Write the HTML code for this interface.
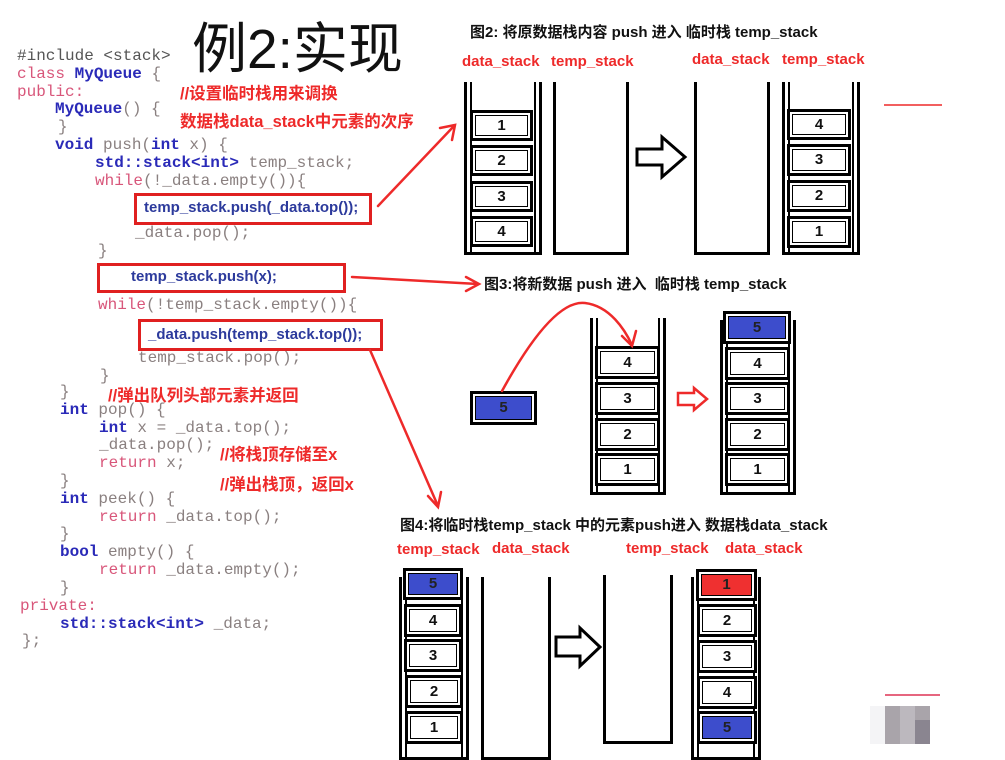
<!DOCTYPE html>
<html><head><meta charset="utf-8"><style>
body{margin:0;width:1005px;height:744px;background:#fff;position:relative;overflow:hidden;font-family:"Liberation Sans","Noto Sans CJK SC",sans-serif}
.a{position:absolute;white-space:nowrap}
.code{font-family:"Liberation Mono",monospace;font-size:16px;color:#8a8080;line-height:17.8px}
.k{color:#2a2ab8;font-weight:bold}
.p{color:#d8567a}
.g{color:#555}
.r{color:#ee2a2a;font-weight:bold;font-size:16.5px}
.box{position:absolute;border:3px solid #e02020}
.bt{position:absolute;font-weight:bold;color:#2c3a9c;font-size:15px;white-space:nowrap}
.ti{font-weight:bold;font-size:15px;color:#111}
.lb{color:#ee2a2a;font-weight:bold;font-size:15px}
.wall{position:absolute;border:3px solid #000;border-top:none;box-shadow:inset 3px 0 0 #fff,inset -3px 0 0 #fff,inset 5px 0 0 #000,inset -5px 0 0 #000}
.el{position:absolute;border:3px solid #000;box-shadow:inset 0 0 0 2px #fff,inset 0 0 0 3px #000;background:#fff;text-align:center;font-weight:bold;font-size:15px;color:#111;box-sizing:border-box}
.bl{background:#3d4dcc;color:#222}
.rd{background:#ef3030;color:#222}
</style></head><body>
<div class="a" style="left:192px;top:4px;font-size:55px;color:#111">例2:实现</div>

<div class="a code" style="left:17px;top:48px">
<div class="g">#include &lt;stack&gt;</div>
<div><span class="p">class</span> <span class="k">MyQueue</span> {</div>
<div class="p">public:</div>
<div style="padding-left:38px"><span class="k">MyQueue</span>() {</div>
<div style="padding-left:41px">}</div>
<div style="padding-left:38px"><span class="k">void</span> push(<span class="k">int</span> x) {</div>
<div style="padding-left:78px"><span class="k">std::stack&lt;int&gt;</span> temp_stack;</div>
<div style="padding-left:78px"><span class="p">while</span>(!_data.empty()){</div>
</div>
<div class="a code" style="left:135px;top:225px">_data.pop();</div>
<div class="a code" style="left:98px;top:243px">}</div>
<div class="a code" style="left:98px;top:297px"><span class="p">while</span>(!temp_stack.empty()){</div>
<div class="a code" style="left:138px;top:350px">temp_stack.pop();</div>
<div class="a code" style="left:100px;top:368px">}</div>
<div class="a code" style="left:60px;top:384px">
<div>}</div>
<div><span class="k">int</span> pop() {</div>
<div style="padding-left:39px"><span class="k">int</span> x = _data.top();</div>
<div style="padding-left:39px">_data.pop();</div>
<div style="padding-left:39px"><span class="p">return</span> x;</div>
<div>}</div>
<div><span class="k">int</span> peek() {</div>
<div style="padding-left:39px"><span class="p">return</span> _data.top();</div>
<div>}</div>
<div><span class="k">bool</span> empty() {</div>
<div style="padding-left:39px"><span class="p">return</span> _data.empty();</div>
<div>}</div>
</div>
<div class="a code" style="left:20px;top:598px"><span class="p">private:</span></div>
<div class="a code" style="left:60px;top:616px"><span class="k">std::stack&lt;int&gt;</span> _data;</div>
<div class="a code" style="left:22px;top:633px">};</div>

<div class="box" style="left:134px;top:193px;width:232px;height:26px"></div>
<div class="bt" style="left:144px;top:199px">temp_stack.push(_data.top());</div>
<div class="box" style="left:97px;top:263px;width:243px;height:24px"></div>
<div class="bt" style="left:131px;top:268px">temp_stack.push(x);</div>
<div class="box" style="left:138px;top:319px;width:239px;height:26px"></div>
<div class="bt" style="left:148px;top:326px">_data.push(temp_stack.top());</div>

<div class="a r" style="left:180px;top:80px">//设置临时栈用来调换</div>
<div class="a r" style="left:180px;top:108px">数据栈data_stack中元素的次序</div>
<div class="a r" style="left:108px;top:382px">//弹出队列头部元素并返回</div>
<div class="a r" style="left:220px;top:441px">//将栈顶存储至x</div>
<div class="a r" style="left:220px;top:471px">//弹出栈顶，返回x</div>

<!-- fig2 -->
<div class="a ti" style="left:470px;top:21px">图2: 将原数据栈内容 push 进入 临时栈 temp_stack</div>
<div class="a lb" style="left:462px;top:53px">data_stack</div>
<div class="a lb" style="left:551px;top:53px">temp_stack</div>
<div class="a lb" style="left:692px;top:51px">data_stack</div>
<div class="a lb" style="left:782px;top:51px">temp_stack</div>
<div class="wall" style="left:464px;top:82px;width:72px;height:170px"></div>
<div class="wall" style="left:553px;top:82px;width:70px;height:170px;box-shadow:none"></div>
<div class="wall" style="left:694px;top:82px;width:70px;height:170px;box-shadow:none"></div>
<div class="wall" style="left:782px;top:82px;width:72px;height:170px"></div>
<div class="el" style="left:470px;top:110px;width:63px;height:31px;line-height:25px">1</div>
<div class="el" style="left:470px;top:145px;width:63px;height:31px;line-height:25px">2</div>
<div class="el" style="left:470px;top:181px;width:63px;height:31px;line-height:25px">3</div>
<div class="el" style="left:470px;top:216px;width:63px;height:31px;line-height:25px">4</div>
<div class="el" style="left:787px;top:109px;width:64px;height:31px;line-height:25px">4</div>
<div class="el" style="left:787px;top:144px;width:64px;height:32px;line-height:26px">3</div>
<div class="el" style="left:787px;top:180px;width:64px;height:32px;line-height:26px">2</div>
<div class="el" style="left:787px;top:216px;width:64px;height:32px;line-height:26px">1</div>

<!-- fig3 -->
<div class="a ti" style="left:484px;top:273px">图3:将新数据 push 进入&nbsp; 临时栈 temp_stack</div>
<div class="el bl" style="left:470px;top:391px;width:67px;height:34px;line-height:28px">5</div>
<div class="wall" style="left:590px;top:318px;width:70px;height:174px"></div>
<div class="el" style="left:595px;top:346px;width:65px;height:33px;line-height:27px">4</div>
<div class="el" style="left:595px;top:382px;width:65px;height:33px;line-height:27px">3</div>
<div class="el" style="left:595px;top:418px;width:65px;height:33px;line-height:27px">2</div>
<div class="el" style="left:595px;top:453px;width:65px;height:33px;line-height:27px">1</div>
<div class="wall" style="left:720px;top:320px;width:70px;height:172px"></div>
<div class="el bl" style="left:723px;top:311px;width:68px;height:33px;line-height:27px">5</div>
<div class="el" style="left:725px;top:347px;width:65px;height:33px;line-height:27px">4</div>
<div class="el" style="left:725px;top:382px;width:65px;height:33px;line-height:27px">3</div>
<div class="el" style="left:725px;top:418px;width:65px;height:33px;line-height:27px">2</div>
<div class="el" style="left:725px;top:453px;width:65px;height:33px;line-height:27px">1</div>

<!-- fig4 -->
<div class="a ti" style="left:400px;top:514px">图4:将临时栈temp_stack 中的元素push进入 数据栈data_stack</div>
<div class="a lb" style="left:397px;top:541px">temp_stack</div>
<div class="a lb" style="left:492px;top:540px">data_stack</div>
<div class="a lb" style="left:626px;top:540px">temp_stack</div>
<div class="a lb" style="left:725px;top:540px">data_stack</div>
<div class="wall" style="left:399px;top:577px;width:64px;height:180px"></div>
<div class="wall" style="left:481px;top:577px;width:64px;height:180px;box-shadow:none"></div>
<div class="wall" style="left:603px;top:575px;width:64px;height:166px;box-shadow:none"></div>
<div class="wall" style="left:691px;top:577px;width:64px;height:180px"></div>
<div class="el bl" style="left:403px;top:568px;width:60px;height:32px;line-height:26px">5</div>
<div class="el" style="left:404px;top:604px;width:58px;height:33px;line-height:27px">4</div>
<div class="el" style="left:404px;top:639px;width:58px;height:33px;line-height:27px">3</div>
<div class="el" style="left:405px;top:675px;width:58px;height:33px;line-height:27px">2</div>
<div class="el" style="left:405px;top:711px;width:58px;height:33px;line-height:27px">1</div>
<div class="el rd" style="left:696px;top:569px;width:61px;height:32px;line-height:26px">1</div>
<div class="el" style="left:697px;top:604px;width:60px;height:33px;line-height:27px">2</div>
<div class="el" style="left:697px;top:640px;width:60px;height:33px;line-height:27px">3</div>
<div class="el" style="left:697px;top:676px;width:60px;height:33px;line-height:27px">4</div>
<div class="el bl" style="left:697px;top:711px;width:60px;height:33px;line-height:27px">5</div>

<div class="a" style="left:870px;top:706px;width:15px;height:38px;background:#f4f4f6"></div>
<div class="a" style="left:885px;top:706px;width:15px;height:38px;background:#a9a4aa"></div>
<div class="a" style="left:900px;top:706px;width:15px;height:38px;background:#bcb8be"></div>
<div class="a" style="left:915px;top:706px;width:15px;height:14px;background:#a9a4aa"></div>
<div class="a" style="left:915px;top:720px;width:15px;height:24px;background:#8a8590"></div>

<svg class="a" style="left:0;top:0" width="1005" height="744">
<g fill="none" stroke="#ee2a2a" stroke-width="2.5" stroke-linecap="round">
<path d="M378 206 L454 126"/><path d="M440 128 L455 125 L452 140"/>
<path d="M352 277 L478 284"/><path d="M466 277 L479 284 L466 291"/>
<path d="M370 350 L438 506"/><path d="M428 496 L438 507 L441 492"/>
<path d="M502 391 C530 340 560 300 585 303 C610 306 625 330 632 345"/><path d="M622 336 L632 346 L636 331"/>
</g>
<line x1="884" y1="105" x2="942" y2="105" stroke="#ee2a2a" stroke-width="1.5"/>
<line x1="885" y1="695" x2="940" y2="695" stroke="#dd3355" stroke-width="1.5"/>
<path d="M637 149 L662 149 L662 137 L685 157 L662 177 L662 165 L637 165 Z" fill="#fff" stroke="#000" stroke-width="3"/>
<path d="M556 637 L580 637 L580 628 L600 647 L580 666 L580 656 L556 656 Z" fill="#fff" stroke="#000" stroke-width="3"/>
<path d="M678 393 L694 393 L694 388 L707 399 L694 410 L694 405 L678 405 Z" fill="#fff" stroke="#ee2a2a" stroke-width="2.5"/>
</svg>
</body></html>
